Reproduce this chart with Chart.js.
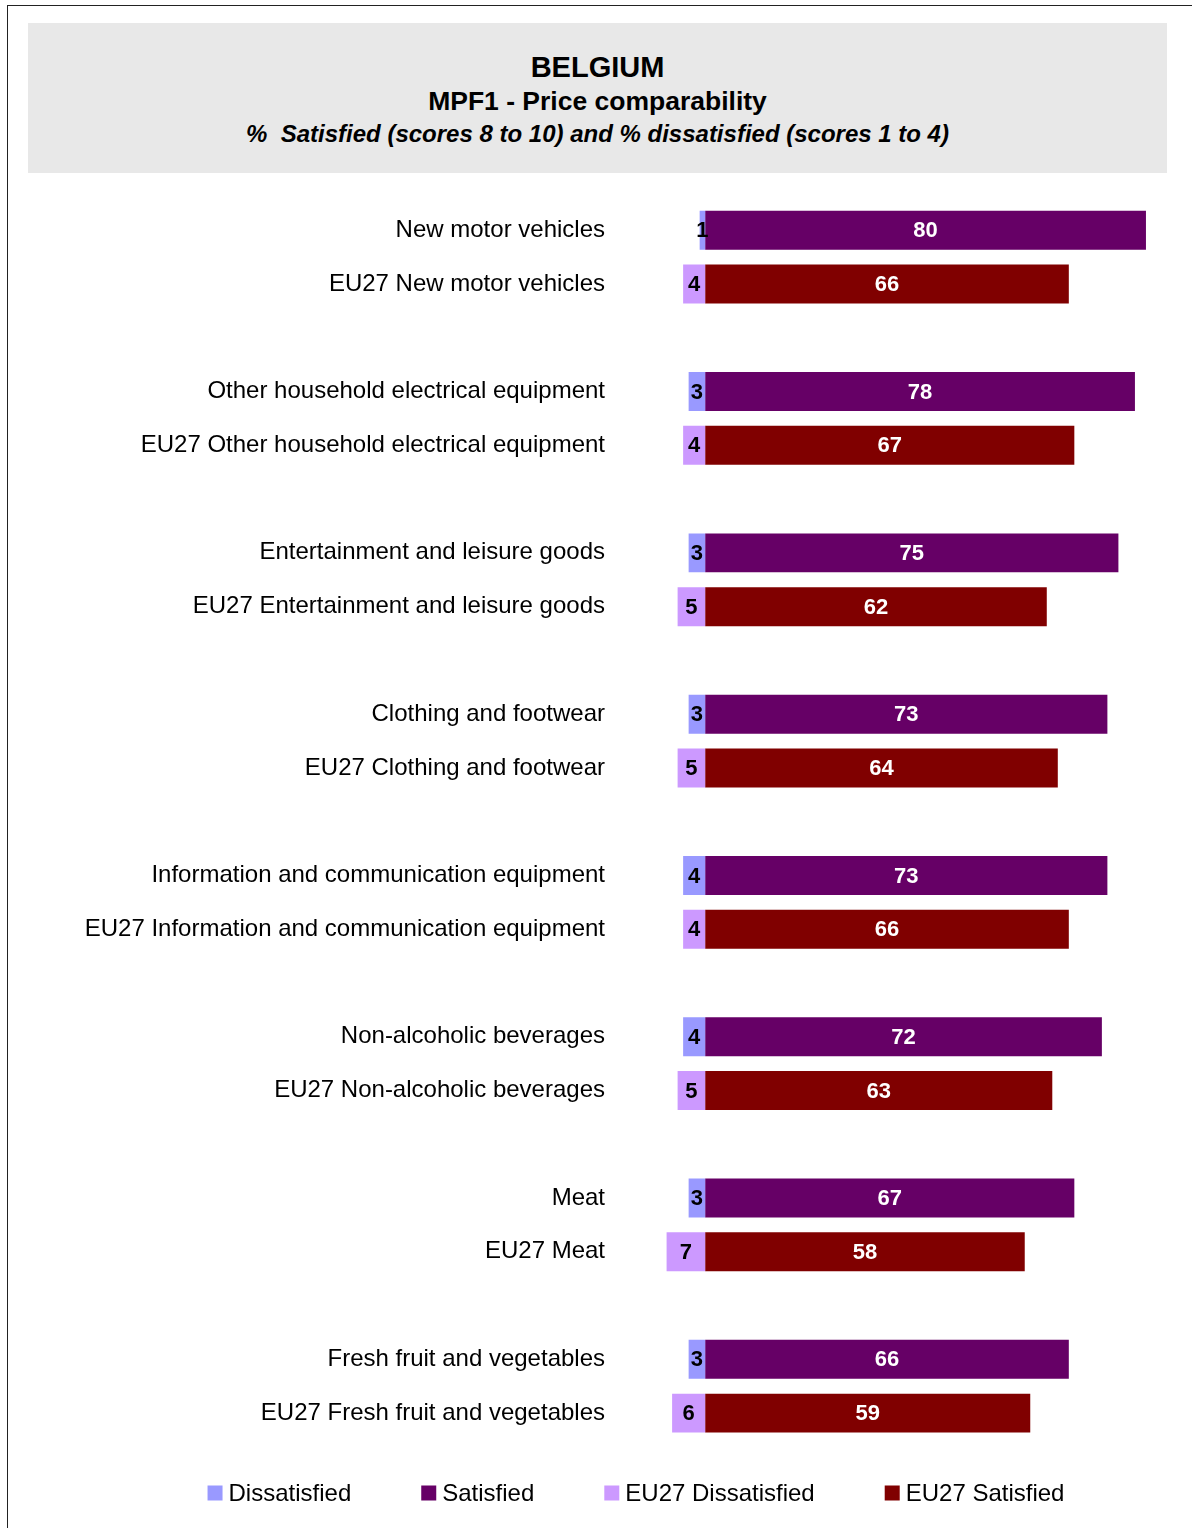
<!DOCTYPE html>
<html>
<head>
<meta charset="utf-8">
<script src="https://cdn.jsdelivr.net/npm/chart.js@4.4.1/dist/chart.umd.min.js"></script>
<style>
  html, body { margin: 0; padding: 0; background: #fff; }
  body { width: 1192px; height: 1528px; position: relative; overflow: hidden; font-family: "Liberation Sans", Arial, sans-serif; }
  #frame { position: absolute; left: 7px; top: 5px; width: 1200px; height: 1540px; border: 1px solid #222; }
  #titleBox { position: absolute; left: 28px; top: 23px; width: 1139px; height: 150px; background: #e8e8e8; text-align: center; color: #000; }
  #t1 { position: absolute; left: 0; right: 0; top: 28px; font-weight: bold; font-size: 29px; }
  #t2 { position: absolute; left: 0; right: 0; top: 63px; font-weight: bold; font-size: 26.5px; }
  #t3 { position: absolute; left: 0; right: 0; top: 97px; font-weight: bold; font-style: italic; font-size: 24px; }
  #wrap { position: absolute; left: 0; top: 185px; width: 1192px; height: 1343px; }
</style>
</head>
<body>
<div id="frame"></div>
<div id="titleBox">
  <div id="t1">BELGIUM</div>
  <div id="t2">MPF1 - Price comparability</div>
  <div id="t3">%&nbsp; Satisfied (scores 8 to 10) and % dissatisfied (scores 1 to 4)</div>
</div>
<div id="wrap"><canvas id="chart" width="1192" height="1343"></canvas></div>
<script>
// categories, top to bottom
const categories = [
  "New motor vehicles",
  "Other household electrical equipment",
  "Entertainment and leisure goods",
  "Clothing and footwear",
  "Information and communication equipment",
  "Non-alcoholic beverages",
  "Meat",
  "Fresh fruit and vegetables"
];
const beDissatisfied = [1, 3, 3, 3, 4, 4, 3, 3];
const beSatisfied = [80, 78, 75, 73, 73, 72, 67, 66];
const euDissatisfied = [4, 4, 5, 5, 4, 5, 7, 6];
const euSatisfied = [66, 67, 62, 64, 66, 63, 58, 59];

const seriesNames = ["Dissatisfied", "Satisfied", "EU27 Dissatisfied", "EU27 Satisfied"];
const seriesColors = ["#9999ff", "#660066", "#cc99ff", "#800000"];

// build rows: country row, EU27 row, empty spacer row
const labels = [];
const dBe = [], sBe = [], dEu = [], sEu = [];
categories.forEach((cat, i) => {
  labels.push(cat);
  dBe.push(-beDissatisfied[i]); sBe.push(beSatisfied[i]); dEu.push(null); sEu.push(null);
  labels.push("EU27 " + cat);
  dBe.push(null); sBe.push(null); dEu.push(-euDissatisfied[i]); sEu.push(euSatisfied[i]);
  if (i < categories.length - 1) {
    labels.push("");
    dBe.push(null); sBe.push(null); dEu.push(null); sEu.push(null);
  }
});

const seriesData = [dBe, sBe, dEu, sEu];

// value labels inside the bars
const valueLabels = {
  id: "valueLabels",
  afterDatasetsDraw(chart) {
    const ctx = chart.ctx;
    ctx.save();
    ctx.font = "bold 22px 'Liberation Sans', Arial, sans-serif";
    ctx.textAlign = "center";
    ctx.textBaseline = "middle";
    chart.data.datasets.forEach((ds, di) => {
      const meta = chart.getDatasetMeta(di);
      meta.data.forEach((bar, i) => {
        const v = ds.data[i];
        if (v === null || v === undefined) return;
        const p = bar.getProps(["x", "y", "base"], true);
        ctx.fillStyle = v < 0 ? "#000" : "#fff";
        ctx.fillText(String(Math.abs(v)), (p.x + p.base) / 2, p.y + 1);
      });
    });
    ctx.restore();
  }
};

// legend drawn at the bottom, centred like the original
const bottomLegend = {
  id: "bottomLegend",
  afterDraw(chart) {
    const ctx = chart.ctx;
    ctx.save();
    ctx.font = "24px 'Liberation Sans', Arial, sans-serif";
    ctx.textBaseline = "middle";
    const box = 15, gapText = 6, gapItem = 70;
    const widths = chart.data.datasets.map(ds => box + gapText + ctx.measureText(ds.label).width);
    const total = widths.reduce((a, b) => a + b, 0) + gapItem * (widths.length - 1);
    let x = 636 - total / 2;
    const y = 1308;
    chart.data.datasets.forEach((ds, i) => {
      ctx.fillStyle = ds.backgroundColor;
      ctx.fillRect(x, y - box / 2, box, box);
      ctx.fillStyle = "#000";
      ctx.fillText(ds.label, x + box + gapText, y + 1);
      x += widths[i] + gapItem;
    });
    ctx.restore();
  }
};

new Chart(document.getElementById("chart").getContext("2d"), {
  type: "bar",
  data: {
    labels: labels,
    datasets: seriesNames.map((name, i) => ({
      label: name,
      data: seriesData[i],
      backgroundColor: seriesColors[i],
      borderWidth: 0,
      stack: "all",
      barPercentage: 0.725,
      categoryPercentage: 1
    }))
  },
  options: {
    indexAxis: "y",
    responsive: false,
    animation: false,
    layout: { padding: { left: 0, right: 24, top: 9, bottom: 88 } },
    plugins: {
      legend: { display: false },
      tooltip: { enabled: false },
      title: { display: false }
    },
    scales: {
      x: {
        stacked: true,
        display: false,
        min: -16,
        max: 84
      },
      y: {
        stacked: true,
        afterFit: (scale) => { scale.width = 617; },
        grid: { display: false },
        border: { display: false },
        ticks: {
          padding: 4,
          color: "#000",
          autoSkip: false,
          font: { family: "'Liberation Sans', Arial, sans-serif", size: 24 }
        }
      }
    }
  },
  plugins: [valueLabels, bottomLegend]
});
</script>
</body>
</html>
